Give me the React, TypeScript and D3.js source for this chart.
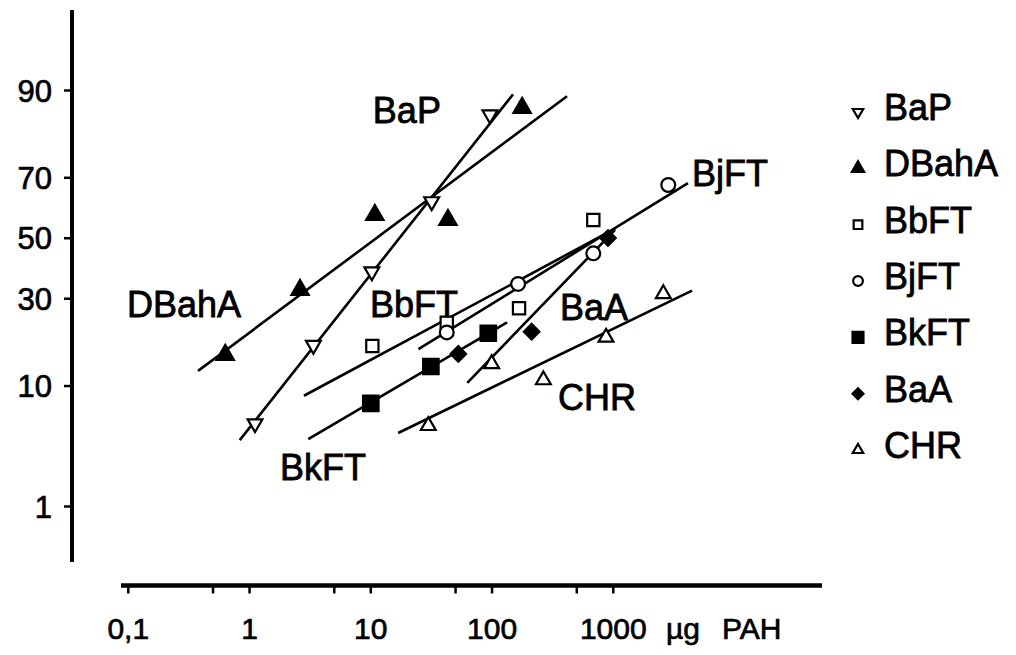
import { useEffect, useRef } from "react";
import * as d3 from "d3";

// x: dose in µg PAH (log), y: response in % (probit scale)
const SERIES = ["BaP", "DBahA", "BbFT", "BjFT", "BkFT", "BaA", "CHR"];

const bapX = [1.11, 3.36, 10.2, 31.8, 96];
const bapP = [5.4, 17.7, 38.6, 62.5, 85.8];
const dbahaX = [0.63, 2.61, 10.8, 43.3, 177];
const dbahaP = [15.6, 32.7, 58.0, 56.3, 87.1];
const bbftX = [10.3, 42.3, 167, 684];
const bbftP = [17.5, 23.2, 27.2, 56.3];
const bjftX = [42.3, 164, 684, 2840];
const bjftP = [20.7, 34.6, 44.8, 67.8];
const bkftX = [10.0, 31.3, 93.1];
const bkftP = [7.6, 13.3, 20.5];
const baaX = [52.7, 212, 904];
const baaP = [15.8, 20.9, 50.1];
const chrX = [29.8, 99.3, 265, 871, 2585];
const chrP = [5.2, 13.8, 10.95, 19.5, 31.5];

// regression line end points [x0, x1], [p0, p1]
const bapFitX = [0.83, 149], bapFitP = [4.0, 89.4];
const dbahaFitX = [0.376, 415], dbahaFitP = [12.5, 89.1];
const bbftFitX = [2.81, 1033], bbftFitP = [8.6, 53.3];
const bjftFitX = [24.7, 4130], bjftFitP = [16.8, 68.4];
const bkftFitX = [3.05, 133], bkftFitP = [4.07, 23.3];
const baaFitX = [62.5, 1033], baaFitP = [10.5, 52.9];
const chrFitX = [16.8, 4460], chrFitP = [4.56, 32.5];

// in-plot labels (start of text baseline, in data units)
const labelText = ["BaP", "DBahA", "BbFT", "BkFT", "BjFT", "BaA", "CHR"];
const labelX = [10.4, 0.0976, 9.85, 1.78, 4460, 363, 350];
const labelP = [84.1, 24.7, 24.7, 1.8, 67.5, 23.9, 6.8];

const xTicks = [0.1, 0.5, 1, 5, 10, 50, 100, 500, 1000];
const xTickLabels = ["0,1", "1", "10", "100", "1000"];
const xLabelValues = [0.1, 1, 10, 100, 1000];
const yTicks = [1, 10, 30, 50, 70, 90];

const DATA = [
  { x: bapX, p: bapP, fx: bapFitX, fp: bapFitP },
  { x: dbahaX, p: dbahaP, fx: dbahaFitX, fp: dbahaFitP },
  { x: bbftX, p: bbftP, fx: bbftFitX, fp: bbftFitP },
  { x: bjftX, p: bjftP, fx: bjftFitX, fp: bjftFitP },
  { x: bkftX, p: bkftP, fx: bkftFitX, fp: bkftFitP },
  { x: baaX, p: baaP, fx: baaFitX, fp: baaFitP },
  { x: chrX, p: chrP, fx: chrFitX, fp: chrFitP },
];

// inverse normal CDF (Acklam)
function probit(p: number) {
  const a = [-39.69683028665376, 220.9460984245205, -275.9285104469687, 138.357751867269, -30.66479806614716, 2.506628277459239];
  const b = [-54.47609879822406, 161.5858368580409, -155.6989798598866, 66.80131188771972, -13.28068155288572];
  const c = [-0.007784894002430293, -0.3223964580411365, -2.400758277161838, -2.549732539343734, 4.374664141464968, 2.938163982698783];
  const d = [0.007784695709041462, 0.3224671290700398, 2.445134137142996, 3.754408661907416];
  const pl = 0.02425;
  if (p < pl) {
    const q = Math.sqrt(-2 * Math.log(p));
    return (((((c[0] * q + c[1]) * q + c[2]) * q + c[3]) * q + c[4]) * q + c[5]) / ((((d[0] * q + d[1]) * q + d[2]) * q + d[3]) * q + 1);
  }
  if (p > 1 - pl) {
    const q = Math.sqrt(-2 * Math.log(1 - p));
    return -(((((c[0] * q + c[1]) * q + c[2]) * q + c[3]) * q + c[4]) * q + c[5]) / ((((d[0] * q + d[1]) * q + d[2]) * q + d[3]) * q + 1);
  }
  const q = p - 0.5, r = q * q;
  return (((((a[0] * r + a[1]) * r + a[2]) * r + a[3]) * r + a[4]) * r + a[5]) * q / (((((b[0] * r + b[1]) * r + b[2]) * r + b[3]) * r + b[4]) * r + 1);
}

const FONT = "'Liberation Sans', Arial, Helvetica, sans-serif";

export default function App() {
  const ref = useRef<SVGSVGElement>(null);

  useEffect(() => {
    const W = 1016, H = 655;
    const svg = d3.select(ref.current).attr("width", W).attr("height", H);
    svg.selectAll("*").remove();

    const x = d3.scaleLog().domain([0.1, 1000]).range([128.3, 613.3]);
    const zs = d3.scaleLinear().domain([probit(0.01), probit(0.9)]).range([506.5, 90.5]);
    const y = (p: number) => zs(probit(p / 100));

    svg.append("rect").attr("width", W).attr("height", H).attr("fill", "#fff");

    // axes
    const axisX = 72, axisY = 585.5;
    svg.append("line").attr("x1", axisX).attr("x2", axisX).attr("y1", 10).attr("y2", 562)
      .attr("stroke", "#000").attr("stroke-width", 4);
    svg.append("line").attr("x1", 121).attr("x2", 822).attr("y1", axisY).attr("y2", axisY)
      .attr("stroke", "#000").attr("stroke-width", 4.5);

    svg.append("g").selectAll("line").data(yTicks).join("line")
      .attr("x1", axisX - 8).attr("x2", axisX).attr("y1", d => y(d)).attr("y2", d => y(d))
      .attr("stroke", "#000").attr("stroke-width", 2.5);
    svg.append("g").selectAll("text").data(yTicks).join("text")
      .attr("x", 52).attr("y", d => y(d)).attr("dy", "0.36em")
      .attr("text-anchor", "end").attr("font-family", FONT).attr("font-size", 31)
      .attr("stroke", "#000").attr("stroke-width", 0.7)
      .text(d => String(d));

    svg.append("g").selectAll("line").data(xTicks).join("line")
      .attr("x1", d => x(d)).attr("x2", d => x(d)).attr("y1", axisY).attr("y2", axisY + 8)
      .attr("stroke", "#000").attr("stroke-width", 2.5);
    svg.append("g").selectAll("text").data(xLabelValues).join("text")
      .attr("x", d => x(d)).attr("y", 639)
      .attr("text-anchor", "middle").attr("font-family", FONT).attr("font-size", 30)
      .attr("stroke", "#000").attr("stroke-width", 0.7)
      .text((_, i) => xTickLabels[i]);
    svg.append("text").attr("x", 666).attr("y", 639)
      .attr("font-family", FONT).attr("font-size", 30)
      .attr("stroke", "#000").attr("stroke-width", 0.7)
      .text("µg");
    svg.append("text").attr("x", 722).attr("y", 639)
      .attr("font-family", FONT).attr("font-size", 30)
      .attr("stroke", "#000").attr("stroke-width", 0.7)
      .text("PAH");

    // regression lines
    const line = d3.line<[number, number]>().x(d => x(d[0])).y(d => y(d[1]));
    svg.append("g").selectAll("path").data(DATA).join("path")
      .attr("d", s => line([[s.fx[0], s.fp[0]], [s.fx[1], s.fp[1]]]))
      .attr("fill", "none").attr("stroke", "#000").attr("stroke-width", 2.6);

    // markers
    const sym = (i: number, scale: number) => {
      const shapes = [d3.symbolTriangle, d3.symbolTriangle, d3.symbolSquare, d3.symbolCircle,
        d3.symbolSquare, d3.symbolSquare, d3.symbolTriangle];
      const sizes = [95, 130, 150, 150, 240, 120, 95];
      return d3.symbol().type(shapes[i]).size(sizes[i] * scale)();
    };
    const rot = [180, 0, 0, 0, 0, 45, 0];
    const filled = [false, true, false, false, true, true, false];

    const drawMarker = (g: any, i: number, cx: number, cy: number, scale: number) => {
      g.append("path")
        .attr("d", sym(i, scale))
        .attr("transform", `translate(${cx},${cy}) rotate(${rot[i]})`)
        .attr("fill", filled[i] ? "#000" : "#fff")
        .attr("stroke", "#000").attr("stroke-width", 2.2);
    };

    const pts = svg.append("g");
    DATA.forEach((s, i) => {
      s.x.forEach((v, k) => drawMarker(pts, i, x(v), y(s.p[k]), 1));
    });

    // in-plot labels
    svg.append("g").selectAll("text").data(labelText).join("text")
      .attr("x", (_, i) => x(labelX[i])).attr("y", (_, i) => y(labelP[i]))
      .attr("font-family", FONT).attr("font-size", 36)
      .attr("stroke", "#000").attr("stroke-width", 0.8)
      .text(d => d);

    // legend
    const ly = d3.scalePoint().domain(SERIES).range([120, 458]);
    const lg = svg.append("g");
    SERIES.forEach((name, i) => {
      drawMarker(lg, i, 858, (ly(name) as number) - 8, 0.5);
      lg.append("text").attr("x", 884).attr("y", ly(name) as number)
        .attr("font-family", FONT).attr("font-size", 36)
        .attr("stroke", "#000").attr("stroke-width", 0.8)
        .text(name);
    });
  }, []);

  return (
    <div style={{ position: "absolute", left: 0, top: 0 }}>
      <svg ref={ref} />
    </div>
  );
}
